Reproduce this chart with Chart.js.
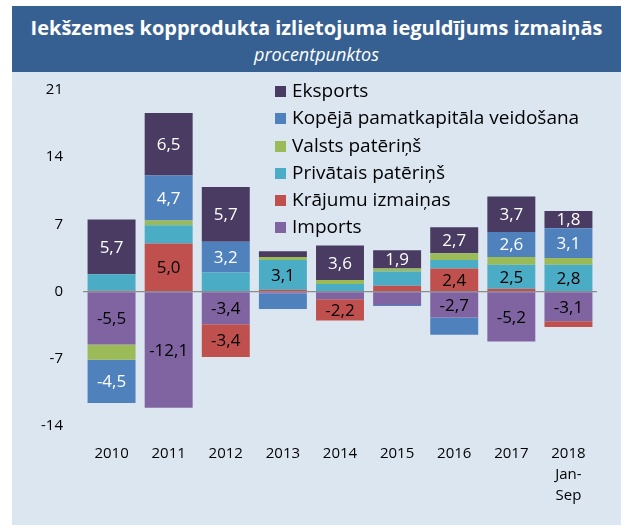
<!DOCTYPE html>
<html>
<head>
<meta charset="utf-8">
<script src="https://cdn.jsdelivr.net/npm/chart.js@4"></script>
<style>
  html, body { margin: 0; padding: 0; background: #fff; }
  #wrap { position: relative; width: 621px; height: 525px; overflow: hidden; }
  #panel { position: absolute; left: 12px; top: 6px; width: 609px; height: 519px; background: #dce6f1; }
  #head { position: absolute; left: 12px; top: 6px; width: 609px; height: 66px; background: #376092;
          color: #fff; text-align: center; font-family: "Open Sans", sans-serif; }
  #head .t { font-weight: bold; font-size: 20px; margin-top: 8px; line-height: 28px; }
  #head .s { font-style: italic; font-size: 18px; line-height: 24px; }
  #legend { position: absolute; left: 275px; top: 77px; font-family: "Open Sans", sans-serif; font-size: 19px; color: #000; }
  #legend div { height: 27.3px; line-height: 27.3px; white-space: nowrap; }
  #legend span { display: inline-block; width: 11px; height: 11px; margin-right: 6px; vertical-align: 0px; }
  canvas { position: absolute; left: 0; top: 0; }
</style>
</head>
<body>
<div id="wrap">
  <div id="panel"></div>
  <div id="head">
    <div class="t">Iekšzemes kopprodukta izlietojuma ieguldījums izmaiņās</div>
    <div class="s">procentpunktos</div>
  </div>
  <canvas id="chart" width="621" height="525"></canvas>
  <div id="legend"></div>
</div>
<script>
// Data (procentpunkti)
const years = ['2010', '2011', '2012', '2013', '2014', '2015', '2016', '2017', ['2018', 'Jan-', 'Sep']];

const imports    = [-5.5, -12.1, -3.4, -0.2, -0.8, -1.4, -2.7, -5.2, -3.1];
const inventory  = [ 0.1,   5.0, -3.4,  0.2, -2.2,  0.6,  2.4,  0.3, -0.6];
const privCons   = [ 1.7,   1.9,  2.0,  3.1,  0.8,  1.5,  0.9,  2.5,  2.8];
const govCons    = [-1.6,   0.5,  0.0,  0.3,  0.4,  0.3,  0.7,  0.8,  0.7];
const investment = [-4.5,   4.7,  3.2, -1.6,  0.0, -0.1, -1.8,  2.6,  3.1];
const exports    = [ 5.7,   6.5,  5.7,  0.6,  3.6,  1.9,  2.7,  3.7,  1.8];

const yTicks = [-14, -7, 0, 7, 14, 21];

// stacking order from zero outwards
const series = [
  { label: 'Imports', data: imports, color: '#8064a2', text: '#000' },
  { label: 'Krājumu izmaiņas', data: inventory, color: '#c0504d', text: '#000' },
  { label: 'Privātais patēriņš', data: privCons, color: '#4bacc6', text: '#000' },
  { label: 'Valsts patēriņš', data: govCons, color: '#9bbb59', text: '#000' },
  { label: 'Kopējā pamatkapitāla veidošana', data: investment, color: '#4f81bd', text: '#fff' },
  { label: 'Eksports', data: exports, color: '#4a3b62', text: '#fff' }
];

function showLabel(ds, v) {
  if (ds.label === 'Eksports') return Math.abs(v) >= 1.5;
  return Math.abs(v) >= 2.1;
}

const valueLabels = {
  id: 'valueLabels',
  afterDatasetsDraw(chart) {
    const ctx = chart.ctx;
    ctx.save();
    ctx.font = '17px "Open Sans", sans-serif';
    ctx.textAlign = 'center';
    ctx.textBaseline = 'middle';
    chart.data.datasets.forEach((ds, i) => {
      const meta = chart.getDatasetMeta(i);
      meta.data.forEach((bar, j) => {
        const v = ds.data[j];
        if (!showLabel(ds, v)) return;
        ctx.fillStyle = series[i].text;
        ctx.fillText(v.toFixed(1).replace('.', ','), bar.x, (bar.y + bar.base) / 2 + 1);
      });
    });
    ctx.restore();
  }
};

new Chart(document.getElementById('chart'), {
  type: 'bar',
  data: {
    labels: years,
    datasets: series.map(s => ({
      label: s.label,
      data: s.data,
      backgroundColor: s.color,
      borderWidth: 0,
      barPercentage: 0.84,
      categoryPercentage: 1
    }))
  },
  options: {
    responsive: false,
    animation: false,
    layout: { padding: { top: 90, right: 24, left: 0, bottom: 0 } },
    plugins: { legend: { display: false }, tooltip: { enabled: false } },
    scales: {
      x: {
        stacked: true,
        grid: { display: false },
        border: { display: false },
        ticks: { color: '#000', font: { family: 'Open Sans', size: 15, lineHeight: 1.4 }, padding: 9, maxRotation: 0 },
        afterFit: s => { s.height = 99; }
      },
      y: {
        stacked: true,
        min: -14,
        max: 21,
        afterBuildTicks: s => { s.ticks = yTicks.map(v => ({ value: v })); },
        grid: {
          drawTicks: false,
          color: c => c.tick && c.tick.value === 0 ? '#8c8c8c' : 'rgba(0,0,0,0)',
          lineWidth: 1.2
        },
        border: { display: false },
        ticks: { color: '#000', font: { family: 'Open Sans', size: 15 }, padding: 20 },
        afterFit: s => { s.width = 83; }
      }
    }
  },
  plugins: [valueLabels]
});

// legend, top entry is the outermost stack
const legend = document.getElementById('legend');
series.slice().reverse().forEach(s => {
  const row = document.createElement('div');
  const box = document.createElement('span');
  box.style.background = s.color;
  row.appendChild(box);
  row.appendChild(document.createTextNode(s.label));
  legend.appendChild(row);
});
</script>
</body>
</html>
